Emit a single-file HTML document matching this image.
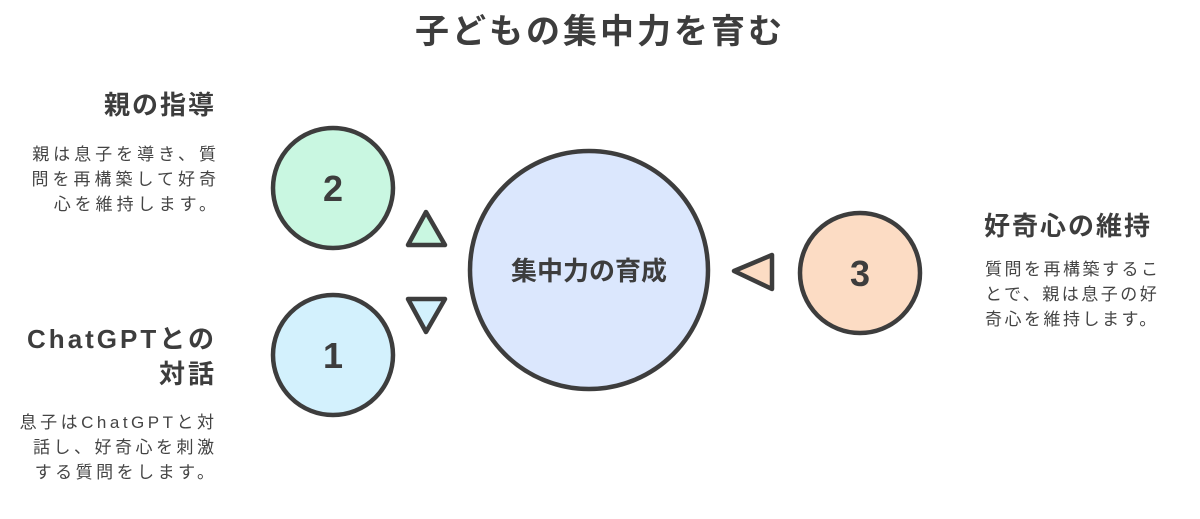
<!DOCTYPE html>
<html><head><meta charset="utf-8"><style>
body{margin:0;width:1200px;height:519px;background:#fff;overflow:hidden;position:relative;font-family:"Liberation Sans","Noto Sans CJK JP",sans-serif;color:#3d3d3d}
.t{position:absolute;white-space:nowrap}
.h{font-weight:bold;font-size:26px;letter-spacing:2px}
.p{font-size:17px;line-height:25px;color:#444;letter-spacing:4px}
</style></head><body>
<div class="t" style="left:0;width:1200px;top:4px;text-align:center;font-size:34px;font-weight:bold;letter-spacing:3px">子どもの集中力を育む</div>
<div class="t h" style="right:986px;top:85px;text-align:right;margin-right:-2px">親の指導</div>
<div class="t p" style="right:984px;top:142px;text-align:right;margin-right:-4px">親は息子を導き、質<br>問を再構築して好奇<br>心を維持します。</div>
<div class="t h" style="right:986px;top:322px;text-align:right;line-height:35px;letter-spacing:3px;margin-right:-3px">ChatGPTとの<br>対話</div>
<div class="t p" style="right:986px;top:410px;text-align:right;letter-spacing:3.5px;margin-right:-3.5px">息子はChatGPTと対<br>話し、好奇心を刺激<br>する質問をします。</div>
<div class="t h" style="left:984px;top:206px;letter-spacing:2px">好奇心の維持</div>
<div class="t p" style="left:985px;top:257px;letter-spacing:2.5px">質問を再構築するこ<br>とで、親は息子の好<br>奇心を維持します。</div>
<svg width="1200" height="519" style="position:absolute;left:0;top:0">
<g stroke="#3d3d3d" stroke-width="4.5">
<circle cx="333" cy="188" r="60" fill="#c9f7e1"/>
<circle cx="333" cy="355" r="60" fill="#d3f1fd"/>
<circle cx="589" cy="270" r="119" fill="#dbe7fd"/>
<circle cx="860" cy="273" r="60" fill="#fcdcc4"/>
<polygon points="426,212 408,245 445,245" fill="#c9f7e1" stroke-linejoin="round"/>
<polygon points="426,332 408,299 445,299" fill="#d3f1fd" stroke-linejoin="round"/>
<polygon points="734,271 772,255 772,289" fill="#fcdcc4" stroke-linejoin="round"/>
</g>
<g font-family="Liberation Sans, Noto Sans CJK JP, sans-serif" font-weight="bold" fill="#3d3d3d" text-anchor="middle">
<text x="333" y="201" font-size="36">2</text>
<text x="333" y="368" font-size="36">1</text>
<text x="860" y="286" font-size="36">3</text>
<text x="589" y="280" font-size="26">集中力の育成</text>
</g>
</svg>
</body></html>
